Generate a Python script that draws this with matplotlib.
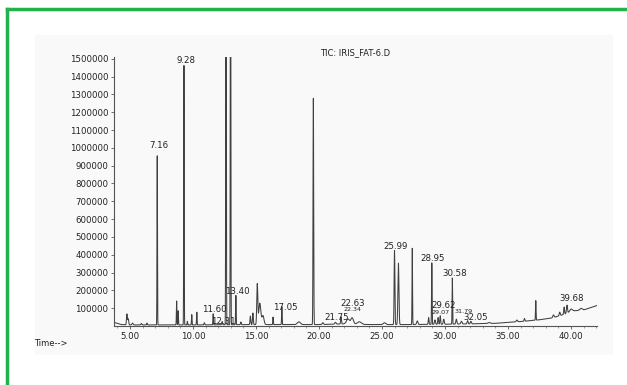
import numpy as np
import matplotlib
matplotlib.use("Agg")
import matplotlib.pyplot as plt
from matplotlib.lines import Line2D

# retention time (min), apex height above baseline (counts), peak sigma (min)
rt = [4.75, 4.85, 5.2, 5.9, 6.35, 7.16, 8.70, 8.82, 9.28, 9.55, 9.90, 10.30,
      10.9, 11.60, 12.31, 12.62, 12.98, 13.40, 13.8, 14.55, 14.75, 15.10,
      15.30, 15.55, 16.35, 17.05, 18.4, 19.55, 20.3, 21.3, 21.75, 22.3,
      22.63, 23.2, 25.2, 25.99, 26.30, 27.40, 27.8, 28.70, 28.95, 29.2,
      29.45, 29.62, 29.9, 30.58, 30.9, 31.3, 31.79, 32.05, 33.5, 35.7,
      36.3, 37.20, 38.6, 39.1, 39.45, 39.68, 40.0, 40.8]
height = [60000, 35000, 10000, 8000, 10000, 955000, 135000, 80000, 1465000,
          20000, 58000, 72000, 12000, 62000, 18000, 3500000, 3000000, 165000,
          15000, 48000, 65000, 225000, 120000, 50000, 42000, 100000, 15000,
          1270000, 10000, 10000, 40000, 28000, 35000, 14000, 10000, 415000,
          345000, 430000, 20000, 38000, 345000, 25000, 38000, 48000, 28000,
          260000, 28000, 15000, 18000, 14000, 5000, 10000, 15000, 110000,
          15000, 20000, 40000, 45000, 15000, 10000]
sigma = [0.03, 0.04, 0.05, 0.04, 0.03, 0.018, 0.02, 0.02, 0.018, 0.02, 0.02,
         0.02, 0.03, 0.02, 0.03, 0.02, 0.02, 0.02, 0.03, 0.03, 0.03, 0.04,
         0.08, 0.08, 0.02, 0.02, 0.12, 0.025, 0.05, 0.05, 0.03, 0.12, 0.1,
         0.15, 0.1, 0.03, 0.04, 0.02, 0.05, 0.03, 0.02, 0.04, 0.03, 0.03,
         0.04, 0.02, 0.04, 0.05, 0.04, 0.04, 0.1, 0.05, 0.03, 0.02, 0.05,
         0.04, 0.03, 0.04, 0.1, 0.1]

# baseline drift
base_t = [3.75, 4.3, 5.0, 10.0, 15.0, 20.0, 22.0, 24.0, 27.0, 30.0, 32.0,
          34.0, 36.0, 37.5, 38.5, 39.2, 40.2, 41.0, 42.05]
base_v = [20000, 8000, 6000, 6000, 8000, 8000, 12000, 8000, 8000, 10000,
          12000, 15000, 25000, 35000, 45000, 60000, 85000, 90000, 115000]

labels = ["7.16", "9.28", "11.60", "12.31", "13.40", "17.05", "21.75",
          "22.63", "22.34", "25.99", "28.95", "30.58", "29.62", "29.07",
          "31.79", "32.05", "39.68"]
# label centres (time, counts)
label_pos = [(7.30, 1015000), (9.44, 1489000), (11.67, 95000), (12.38, 28000),
             (13.53, 195000), (17.30, 106000), (21.40, 50000), (22.70, 124000),
             (22.65, 90000), (26.11, 446000), (29.05, 379000), (30.79, 296000),
             (29.92, 114000), (29.68, 76000), (31.50, 82000), (32.40, 46000),
             (40.08, 156000)]
small = {"22.34", "29.07", "31.79"}

t = np.arange(3.75, 42.06, 0.004)
sig = np.interp(t, base_t, base_v)
for c, h, s in zip(rt, height, sigma):
    sig += h * np.exp(-0.5 * ((t - c) / s) ** 2)

fig = plt.figure(figsize=(6.27, 3.85), dpi=100)
fig.patch.set_facecolor("white")
fig.add_artist(plt.Rectangle((35 / 627, 1 - 355 / 385), 578 / 627, 320 / 385,
                             transform=fig.transFigure, facecolor="#f9f9f9",
                             edgecolor="none", zorder=-5))

ax = fig.add_axes([114 / 627, 1 - 326 / 385, 483 / 627, 269 / 385])
ax.set_facecolor("none")
ax.plot(t, sig, color="#404040", lw=0.75)
ax.set_xlim(3.73, 42.06)
ax.set_ylim(0, 1.51e6)

for sp in ("top", "right"):
    ax.spines[sp].set_visible(False)
for sp in ("left", "bottom"):
    ax.spines[sp].set_color("#555555")
    ax.spines[sp].set_linewidth(0.8)

ax.set_yticks(np.arange(100000, 1500001, 100000))
ax.set_yticklabels([str(v) for v in range(100000, 1500001, 100000)])
ax.set_xticks([5, 10, 15, 20, 25, 30, 35, 40])
ax.set_xticklabels(["5.00", "10.00", "15.00", "20.00", "25.00", "30.00",
                    "35.00", "40.00"])
ax.set_xticks(np.arange(4, 43, 1), minor=True)
ax.tick_params(axis="both", labelsize=6.2, colors="#555555", labelcolor="#222222",
               length=2.5, width=0.6, pad=1.5)
ax.tick_params(axis="x", which="minor", length=1.5, width=0.5, colors="#777777")

for lab, (x, y) in zip(labels, label_pos):
    ax.text(x, y, lab, ha="center", va="center", color="#222222",
            fontsize=4.6 if lab in small else 6.2, clip_on=False)

fig.text(355 / 627, 1 - 53 / 385, "TIC: IRIS_FAT-6.D", ha="center",
         va="center", fontsize=6, color="#222222")
fig.text(34 / 627, 1 - 343 / 385, "Time-->", ha="left", va="center",
         fontsize=6, color="#222222")

# green frame, open at right and bottom
green = "#22b24c"
fig.add_artist(Line2D([7 / 627, 7 / 627], [0, 1 - 9 / 385], color=green, lw=2.5,
                      transform=fig.transFigure))
fig.add_artist(Line2D([7 / 627, 1], [1 - 9 / 385, 1 - 9 / 385], color=green,
                      lw=2.5, transform=fig.transFigure, solid_capstyle="projecting"))

fig.savefig("out.png", dpi=100)
